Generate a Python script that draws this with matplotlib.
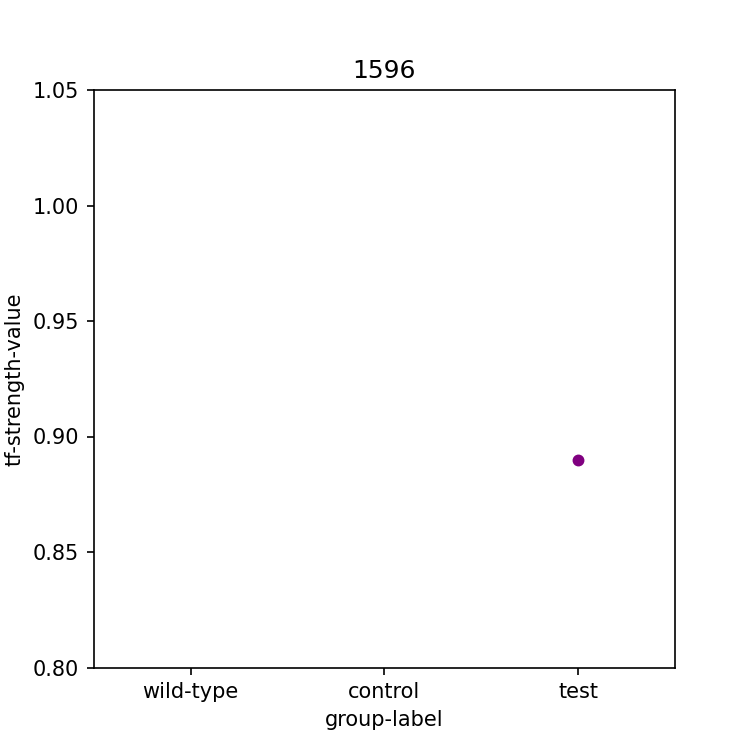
import matplotlib
matplotlib.use("Agg")
import matplotlib.pyplot as plt

groups = ["wild-type", "control", "test"]
point_groups = ["test"]
point_values = [0.8897]

fig, ax = plt.subplots(figsize=(5, 5), dpi=150)
xs = [groups.index(g) for g in point_groups]
ax.scatter(xs, point_values, color="purple", s=22, zorder=3)
ax.set_xticks(range(len(groups)))
ax.set_xticklabels(groups)
ax.set_xlim(-0.5, len(groups) - 0.5)
ax.set_ylim(0.8, 1.05)
ax.set_xlabel("group-label")
ax.set_ylabel("tf-strength-value")
ax.set_title("1596")
fig.savefig("out.png", dpi=150)
